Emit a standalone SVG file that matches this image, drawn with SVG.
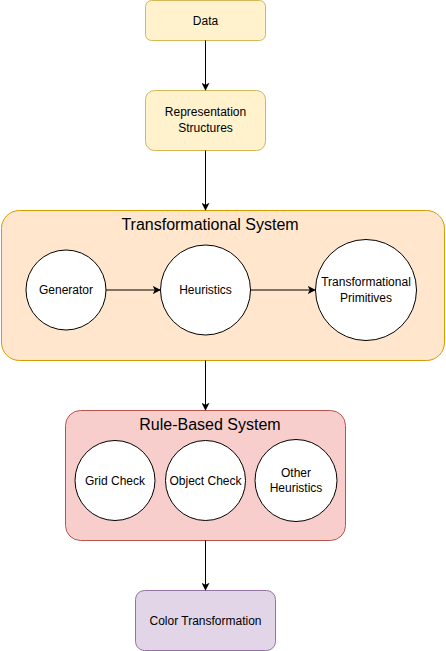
<svg xmlns="http://www.w3.org/2000/svg" width="446" height="651" viewBox="0 0 446 651">
<style>
text{font-family:"Liberation Sans",Arial,sans-serif;fill:#000;text-anchor:middle}
.s{font-size:12px}
.t{font-size:16px}
.c{fill:#fff;stroke:#000;stroke-width:1}
.e{stroke:#000;stroke-width:1;fill:none;marker-end:url(#a)}
</style>
<defs>
<marker id="a" viewBox="0 0 10 10" refX="9" refY="5" markerWidth="8" markerHeight="8" markerUnits="userSpaceOnUse" orient="auto">
<path d="M0,0 L10,5 L0,10 L2.5,5 Z" fill="#000"/>
</marker>
</defs>
<g id="data">
<rect x="145.5" y="0.5" width="120" height="40" rx="6" fill="#fff2cc" stroke="#d6b656"/>
<text class="s" x="205.5" y="24.5">Data</text>
</g>
<g id="repr">
<rect x="145.5" y="90.5" width="120" height="60" rx="9" fill="#fff2cc" stroke="#d6b656"/>
<text class="s" x="205.5" y="116">Representation</text>
<text class="s" x="205.5" y="132">Structures</text>
</g>
<g id="trans">
<rect x="1.5" y="210.5" width="443" height="150" rx="18" fill="#ffe6cc" stroke="#d79b00"/>
<text class="t" x="210" y="230">Transformational System</text>
</g>
<g id="generator">
<circle class="c" cx="66" cy="290" r="40"/>
<text class="s" x="66" y="294">Generator</text>
</g>
<g id="heuristics">
<circle class="c" cx="205.5" cy="290" r="45"/>
<text class="s" x="205.5" y="294">Heuristics</text>
</g>
<g id="primitives">
<circle class="c" cx="366" cy="290" r="50.5"/>
<text class="s" x="366" y="286">Transformational</text>
<text class="s" x="366" y="302">Primitives</text>
</g>
<g id="rule">
<rect x="65.5" y="410.5" width="280" height="130" rx="15" fill="#f8cecc" stroke="#b85450"/>
<text class="t" x="210" y="430">Rule-Based System</text>
</g>
<g id="grid">
<circle class="c" cx="115" cy="480.5" r="40"/>
<text class="s" x="115" y="484.5">Grid Check</text>
</g>
<g id="object">
<circle class="c" cx="205.5" cy="480.5" r="40"/>
<text class="s" x="205.5" y="484.5">Object Check</text>
</g>
<g id="other">
<circle class="c" cx="296" cy="480.5" r="41"/>
<text class="s" x="296" y="477">Other</text>
<text class="s" x="296" y="492">Heuristics</text>
</g>
<g id="color">
<rect x="135.5" y="590.5" width="140" height="60" rx="9" fill="#e1d5e7" stroke="#9673a6"/>
<text class="s" x="205.5" y="624.5">Color Transformation</text>
</g>
<g id="connectors">
<path class="e" d="M205.5,40.5 V90"/>
<path class="e" d="M205.5,150.5 V210"/>
<path class="e" d="M106,290 H160"/>
<path class="e" d="M250.5,290 H315"/>
<path class="e" d="M205.5,360.5 V410"/>
<path class="e" d="M205.5,540.5 V590"/>
</g>
</svg>
